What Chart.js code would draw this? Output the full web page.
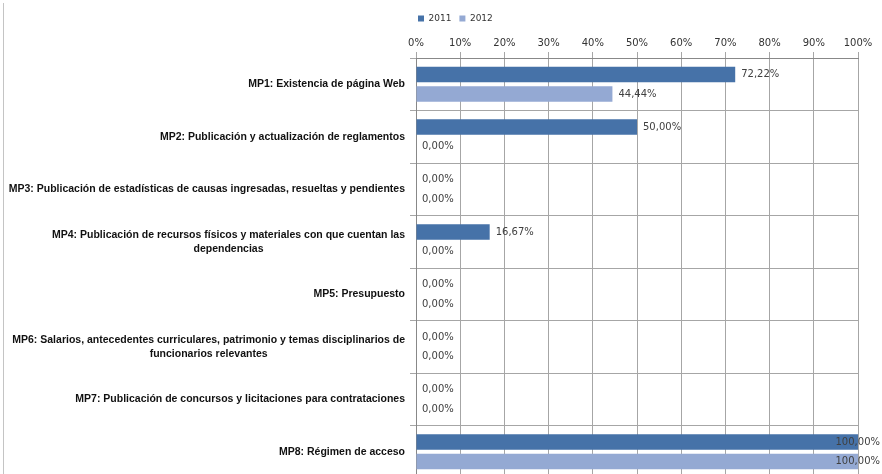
<!DOCTYPE html>
<html lang="es">
<head>
<meta charset="UTF-8">
<title>MP 2011 / 2012</title>
<script src="https://cdn.jsdelivr.net/npm/chart.js"></script>
<style>
  html, body { margin: 0; padding: 0; background: #fff; overflow: hidden; }
  #wrap { width: 882px; height: 482px; }
</style>
</head>
<body>
<div id="wrap"><canvas id="mpChart" width="882" height="482"></canvas></div>
<script>
const categories = [
  ["MP1: Existencia de página Web"],
  ["MP2: Publicación y actualización de reglamentos"],
  ["MP3: Publicación de estadísticas de causas ingresadas, resueltas y pendientes"],
  ["MP4: Publicación de recursos físicos y materiales con que cuentan las", "dependencias"],
  ["MP5: Presupuesto"],
  ["MP6: Salarios, antecedentes curriculares, patrimonio y temas disciplinarios de", "funcionarios relevantes"],
  ["MP7: Publicación de concursos y licitaciones para contrataciones"],
  ["MP8: Régimen de acceso"]
];
const seriesNames = ["2011", "2012"];
const values2011 = [72.22, 50.0, 0, 16.67, 0, 0, 0, 100.0];
const values2012 = [44.44, 0, 0, 0, 0, 0, 0, 100.0];
const xTickValues = [0, 10, 20, 30, 40, 50, 60, 70, 80, 90, 100];

const fmt = v => v.toFixed(2).replace(".", ",") + "%";

// left border of the excel chart frame
const frameLine = {
  id: "frameLine",
  beforeDraw(chart) {
    const ctx = chart.ctx;
    ctx.save();
    ctx.strokeStyle = "#c4c4c4";
    ctx.lineWidth = 1;
    ctx.beginPath();
    ctx.moveTo(3.5, 3);
    ctx.lineTo(3.5, chart.height);
    ctx.stroke();
    ctx.restore();
  }
};

// category labels: block right aligned, lines centred inside the block
const categoryLabels = {
  id: "categoryLabels",
  afterDraw(chart) {
    const { ctx, chartArea, scales } = chart;
    ctx.save();
    ctx.font = "bold 10.5px 'Liberation Sans', Arial, sans-serif";
    ctx.fillStyle = "#111";
    ctx.textBaseline = "middle";
    ctx.textAlign = "center";
    const right = chartArea.left - 11;
    chart.data.labels.forEach((lines, i) => {
      const cy = scales.y.getPixelForTick(i);
      const w = Math.max(...lines.map(l => ctx.measureText(l).width));
      lines.forEach((line, j) => {
        ctx.fillText(line, right - w / 2, cy + (j - (lines.length - 1) / 2) * 14);
      });
    });
    ctx.restore();
  }
};

const valueLabels = {
  id: "valueLabels",
  afterDatasetsDraw(chart) {
    const ctx = chart.ctx;
    ctx.save();
    ctx.font = "10px 'DejaVu Sans', sans-serif";
    ctx.fillStyle = "#404040";
    ctx.textBaseline = "middle";
    ctx.textAlign = "left";
    chart.data.datasets.forEach((ds, di) => {
      chart.getDatasetMeta(di).data.forEach((bar, i) => {
        const txt = fmt(ds.data[i]);
        const w = ctx.measureText(txt).width;
        const x = Math.min(bar.x + 6, chart.width - w - 2);
        ctx.fillText(txt, x, bar.y);
      });
    });
    ctx.restore();
  }
};

new Chart(document.getElementById("mpChart"), {
  type: "bar",
  data: {
    labels: categories,
    datasets: [
      {
        label: seriesNames[0],
        data: values2011,
        backgroundColor: "#4672a8",
        categoryPercentage: 0.74,
        barPercentage: 0.8
      },
      {
        label: seriesNames[1],
        data: values2012,
        backgroundColor: "#94a9d3",
        categoryPercentage: 0.74,
        barPercentage: 0.8
      }
    ]
  },
  options: {
    indexAxis: "y",
    responsive: false,
    animation: false,
    layout: { padding: { left: 410, right: 24, top: 6, bottom: 4 } },
    plugins: {
      legend: {
        position: "top",
        align: "start",
        labels: {
          boxWidth: 6,
          boxHeight: 6,
          padding: 8,
          color: "#333",
          font: { family: "'DejaVu Sans', sans-serif", size: 9 }
        }
      },
      tooltip: { enabled: false }
    },
    scales: {
      x: {
        position: "top",
        min: 0,
        max: 100,
        afterBuildTicks: s => { s.ticks = xTickValues.map(v => ({ value: v })); },
        afterFit: s => { s.height = 25; },
        ticks: {
          callback: v => v + "%",
          color: "#333",
          padding: 3,
          maxRotation: 0,
          font: { family: "'DejaVu Sans', sans-serif", size: 10 }
        },
        grid: { color: "#a6a6a6", tickLength: 6 },
        border: { color: "#888" }
      },
      y: {
        ticks: { display: false },
        grid: { color: "#a6a6a6", tickLength: 6, offset: true },
        border: { color: "#888" }
      }
    }
  },
  plugins: [frameLine, categoryLabels, valueLabels]
});
</script>
</body>
</html>
